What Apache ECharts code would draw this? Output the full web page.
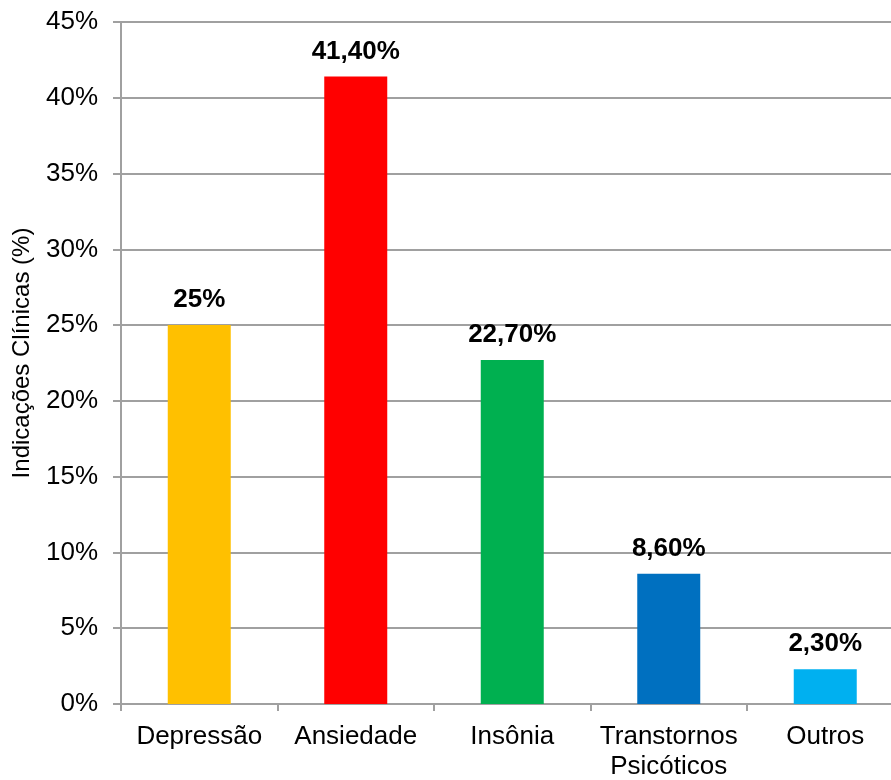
<!DOCTYPE html>
<html>
<head>
<meta charset="utf-8">
<style>
  html, body { margin: 0; padding: 0; background: #fff; }
  #chart { width: 891px; height: 780px; }
</style>
<script src="https://cdn.jsdelivr.net/npm/echarts@6/dist/echarts.min.js"></script>
</head>
<body>
<div id="chart"></div>
<script>
// Clinical indications (%)
const categories = ['Depressão', 'Ansiedade', 'Insônia', 'Transtornos\nPsicóticos', 'Outros'];
const values = [25, 41.4, 22.7, 8.6, 2.3];
const barColors = ['#FFC000', '#FF0000', '#00B050', '#0070C0', '#00B0F0'];
const yTicks = [0, 5, 10, 15, 20, 25, 30, 35, 40, 45];

const font = '"Liberation Sans", Arial, sans-serif';
const gridGray = '#A0A0A0';

function pctLabel(v) {
  return Number.isInteger(v) ? v + '%' : v.toFixed(2).replace('.', ',') + '%';
}

const chart = echarts.init(document.getElementById('chart'), null, { renderer: 'canvas' });
chart.setOption({
  animation: false,
  backgroundColor: '#ffffff',
  grid: {
    left: 121, right: -12.5, top: 22, bottom: 76,
    containLabel: false, outerBoundsMode: 'none'
  },
  xAxis: {
    type: 'category',
    data: categories,
    axisLine: { lineStyle: { color: gridGray, width: 2 } },
    axisTick: { show: true, length: 7, lineStyle: { color: gridGray, width: 2 } },
    axisLabel: {
      color: '#000', fontFamily: font, fontSize: 26, lineHeight: 30,
      margin: 18, interval: 0
    }
  },
  yAxis: {
    type: 'value',
    min: yTicks[0],
    max: yTicks[yTicks.length - 1],
    interval: yTicks[1] - yTicks[0],
    name: 'Indicações Clínicas (%)',
    nameLocation: 'middle',
    nameGap: 87,
    nameTextStyle: { color: '#000', fontFamily: font, fontSize: 24, padding: [0, 0, 0, 20] },
    axisLine: { show: true, lineStyle: { color: gridGray, width: 2 } },
    axisTick: { show: true, length: 8, lineStyle: { color: gridGray, width: 2 } },
    splitLine: { show: true, lineStyle: { color: gridGray, width: 2 } },
    axisLabel: {
      color: '#000', fontFamily: font, fontSize: 26, margin: 23,
      formatter: v => v + '%'
    }
  },
  series: [{
    type: 'bar',
    barWidth: 63,
    data: values.map((v, i) => ({ value: v, itemStyle: { color: barColors[i] } })),
    label: {
      show: true,
      position: 'top',
      distance: 12,
      color: '#000',
      fontFamily: font,
      fontSize: 26,
      fontWeight: 'bold',
      formatter: p => pctLabel(p.value)
    }
  }]
});
</script>
</body>
</html>
